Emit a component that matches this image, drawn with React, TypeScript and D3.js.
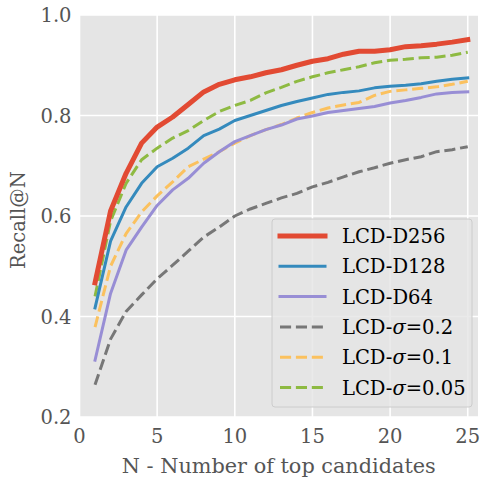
import React, { useEffect, useRef } from "react";
import { select, scaleLinear, line } from "d3";

// N values (top candidates)
const topN = Array.from({ length: 25 }, (_, i) => i + 1);

const d256 = [0.467, 0.61, 0.685, 0.745, 0.777, 0.797, 0.822, 0.847, 0.862, 0.871, 0.877, 0.885, 0.891, 0.9, 0.908, 0.913, 0.922, 0.928, 0.928, 0.931, 0.937, 0.939, 0.942, 0.946, 0.951];
const d128 = [0.417, 0.55, 0.618, 0.665, 0.698, 0.715, 0.735, 0.76, 0.773, 0.79, 0.8, 0.81, 0.82, 0.828, 0.835, 0.842, 0.846, 0.849, 0.855, 0.858, 0.86, 0.863, 0.868, 0.872, 0.875];
const d64 = [0.313, 0.446, 0.532, 0.578, 0.621, 0.652, 0.675, 0.705, 0.728, 0.748, 0.76, 0.772, 0.781, 0.793, 0.799, 0.806, 0.81, 0.814, 0.818, 0.825, 0.83, 0.836, 0.843, 0.846, 0.847];
const sigma02 = [0.264, 0.355, 0.41, 0.443, 0.475, 0.502, 0.53, 0.558, 0.578, 0.6, 0.614, 0.625, 0.636, 0.645, 0.658, 0.667, 0.678, 0.688, 0.696, 0.705, 0.712, 0.718, 0.728, 0.732, 0.738];
const sigma01 = [0.379, 0.5, 0.565, 0.608, 0.64, 0.668, 0.698, 0.713, 0.728, 0.745, 0.76, 0.772, 0.782, 0.795, 0.806, 0.815, 0.821, 0.826, 0.84, 0.848, 0.851, 0.854, 0.857, 0.862, 0.868];
const sigma005 = [0.44, 0.59, 0.665, 0.712, 0.735, 0.755, 0.77, 0.79, 0.808, 0.82, 0.83, 0.845, 0.856, 0.868, 0.877, 0.885, 0.891, 0.897, 0.905, 0.91, 0.912, 0.915, 0.916, 0.92, 0.926];

const xTicks = [0, 5, 10, 15, 20, 25];
const yTicks = [0.2, 0.4, 0.6, 0.8, 1.0];

const seriesList = [
  { name: "LCD-D256", sigma: null, values: d256, color: "#E24A33", width: 5, dashed: false },
  { name: "LCD-D128", sigma: null, values: d128, color: "#348ABD", width: 3, dashed: false },
  { name: "LCD-D64", sigma: null, values: d64, color: "#988ED5", width: 3, dashed: false },
  { name: "LCD-", sigma: "=0.2", values: sigma02, color: "#777777", width: 3, dashed: true },
  { name: "LCD-", sigma: "=0.1", values: sigma01, color: "#FBC15E", width: 3, dashed: true },
  { name: "LCD-", sigma: "=0.05", values: sigma005, color: "#8EBA42", width: 3, dashed: true },
];

const FONT = "DejaVu Serif";
const FS = 19.5;

function App() {
  const ref = useRef<SVGSVGElement>(null);

  let margin = { top: 15, right: 2, bottom: 60, left: 79.5 },
    width = 480 - margin.left - margin.right,
    height = 477 - margin.top - margin.bottom;

  useEffect(() => {
    const svg = select(ref.current);
    svg.selectAll("*").remove();

    const x = scaleLinear().domain([0, 25.66]).range([0, width]);
    const y = scaleLinear().domain([0.2, 1.0]).range([height, 0]);

    const g = svg.append("g").attr("transform", `translate(${margin.left},${margin.top})`);

    g.append("rect").attr("width", width).attr("height", height).attr("fill", "#E5E5E5");

    // grid
    g.selectAll(".vgrid").data(xTicks).join("line")
      .attr("x1", (d) => x(d)).attr("x2", (d) => x(d))
      .attr("y1", 0).attr("y2", height)
      .attr("stroke", "white").attr("stroke-width", 1.6);
    g.selectAll(".hgrid").data(yTicks).join("line")
      .attr("x1", 0).attr("x2", width)
      .attr("y1", (d) => y(d)).attr("y2", (d) => y(d))
      .attr("stroke", "white").attr("stroke-width", 1.6);

    // tick labels
    g.selectAll(".xt").data(xTicks).join("text")
      .attr("x", (d) => x(d)).attr("y", height + 26)
      .attr("text-anchor", "middle")
      .attr("font-family", FONT).attr("font-size", FS).attr("fill", "#555555")
      .text((d) => String(d));
    g.selectAll(".yt").data(yTicks).join("text")
      .attr("x", -8).attr("y", (d) => y(d) + 7)
      .attr("text-anchor", "end")
      .attr("font-family", FONT).attr("font-size", FS).attr("fill", "#555555")
      .text((d) => d.toFixed(1));

    // axis labels
    g.append("text")
      .attr("x", width / 2).attr("y", height + 56)
      .attr("text-anchor", "middle")
      .attr("font-family", FONT).attr("font-size", FS).attr("fill", "#555555")
      .attr("textLength", 314).attr("lengthAdjust", "spacingAndGlyphs")
      .text("N - Number of top candidates");
    g.append("text")
      .attr("transform", `translate(${-55},${height / 2 + 4}) rotate(-90)`)
      .attr("text-anchor", "middle")
      .attr("font-family", FONT).attr("font-size", FS).attr("fill", "#555555")
      .text("Recall@N");

    const lineGen = line<number>().x((d, i) => x(topN[i])).y((d) => y(d));

    // draw in reverse so D256 ends on top
    [...seriesList].reverse().forEach((s) => {
      g.append("path")
        .attr("d", lineGen(s.values))
        .attr("fill", "none")
        .attr("stroke", s.color)
        .attr("stroke-width", s.width)
        .attr("stroke-linejoin", "round")
        .attr("stroke-linecap", s.dashed ? "butt" : "square")
        .attr("stroke-dasharray", s.dashed ? "11.1,4.8" : null);
    });

    // legend
    const lg = svg.append("g").attr("transform", "translate(272,219)");
    lg.append("rect")
      .attr("width", 200).attr("height", 188).attr("rx", 3)
      .attr("fill", "#E5E5E5").attr("fill-opacity", 0.8)
      .attr("stroke", "#CCCCCC").attr("stroke-width", 1);

    seriesList.forEach((s, i) => {
      const cy = 17 + i * 30.3;
      lg.append("line")
        .attr("x1", 8).attr("x2", 53).attr("y1", cy).attr("y2", cy)
        .attr("stroke", s.color).attr("stroke-width", s.width)
        .attr("stroke-linecap", s.dashed ? "butt" : "square")
        .attr("stroke-dasharray", s.dashed ? "11.1,4.8" : null);
      const t = lg.append("text")
        .attr("x", 70).attr("y", cy + 7)
        .attr("font-family", FONT).attr("font-size", FS).attr("fill", "black");
      t.append("tspan").text(s.name);
      if (s.sigma) {
        t.append("tspan").attr("font-style", "italic").text("σ");
        t.append("tspan").text(s.sigma);
      }
    });
  }, []);

  return (
    <div>
      <svg ref={ref} width={480} height={477} style={{ position: "absolute", left: 0, top: 0, background: "white" }} />
    </div>
  );
}

export default App;
